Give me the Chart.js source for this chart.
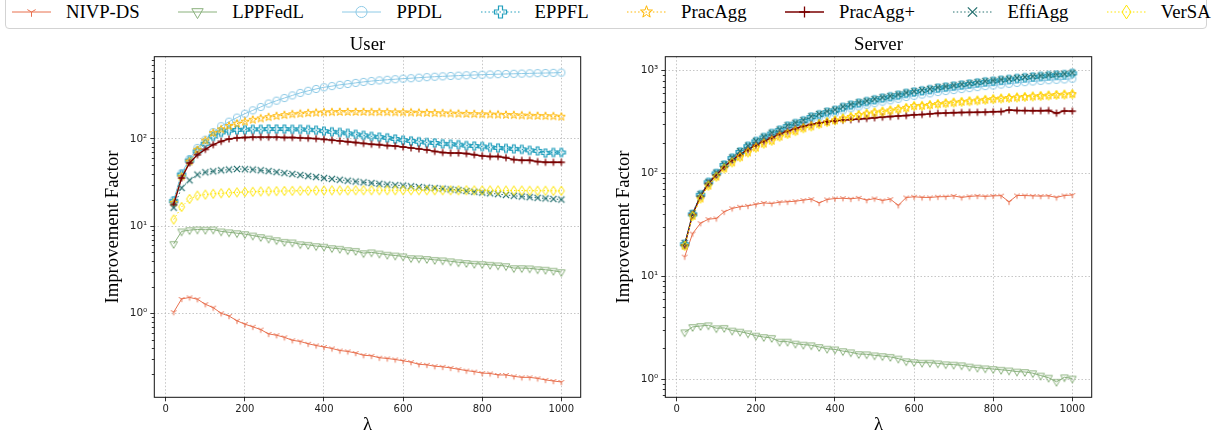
<!DOCTYPE html>
<html>
<head>
<meta charset="utf-8">
<script src="https://cdn.jsdelivr.net/npm/chart.js@4.4.0/dist/chart.umd.min.js"></script>
<style>
html,body{margin:0;padding:0;background:#fff;width:1213px;height:438px;overflow:hidden;position:relative;}
#c1{position:absolute;left:0;top:0;}
#c2{position:absolute;left:606px;top:0;}
#legendBox{position:absolute;left:5px;top:-5px;width:1202px;height:34.3px;border:1px solid #d3d3d3;border-radius:4px;box-sizing:border-box;background:#fff;}
#legend{position:absolute;left:12px;top:0.3px;display:flex;gap:38.5px;align-items:flex-start;}
.item{display:flex;align-items:flex-start;}
.item canvas{display:block;margin-right:15px;}
.item span{font-family:"Liberation Serif";font-size:18.7px;line-height:24px;color:#000;white-space:nowrap;}
</style>
</head>
<body>
<div id="legendBox"></div>
<div id="legend"></div>
<canvas id="c1" width="606" height="438"></canvas>
<canvas id="c2" width="607" height="438"></canvas>
<script>
// ---------------- DATA ----------------
const lambdas = [20,40,60,80,100,120,140,160,180,200,220,240,260,280,300,320,340,360,380,400,
                 420,440,460,480,500,520,540,560,580,600,620,640,660,680,700,720,740,760,780,800,
                 820,840,860,880,900,920,940,960,980,1000];

const seriesNames = ['NIVP-DS','LPPFedL','PPDL','EPPFL','PracAgg','PracAgg+','EffiAgg','VerSA'];

// User subplot
const nivpUser = [1.03,1.46,1.52,1.45,1.27,1.16,1.00,0.93,0.82,0.75,0.70,0.65,0.58,0.56,0.53,0.49,0.475,0.447,0.427,0.41,
                  0.395,0.374,0.365,0.35,0.33,0.325,0.309,0.303,0.295,0.285,0.275,0.26,0.256,0.247,0.243,0.236,0.228,0.22,0.214,0.206,
                  0.204,0.196,0.196,0.189,0.184,0.184,0.179,0.172,0.167,0.163];
const lppUser = [6.25,8.7,9.0,9.15,9.1,9.15,8.7,8.5,8.3,8.1,7.8,7.5,7.2,6.9,6.6,6.5,6.2,6.1,5.9,5.8,
                 5.6,5.5,5.3,5.2,4.9,5.0,4.85,4.7,4.6,4.5,4.3,4.27,4.2,4.1,4.05,3.95,3.85,3.78,3.7,3.67,
                 3.6,3.55,3.48,3.3,3.3,3.28,3.2,3.16,3.08,2.97];
const ppdlUser = [19.9,40.5,59,79,98,120,140,158,176,195,213,233,255,275,295,316,338,357,375,392,
                  404,418,428,440,452,462,470,478,485,492,498,505,512,518,523,528,533,538,542,546,
                  550,554,557,560,563,566,569,571,574,578];
const eppflUser = [19.3,39,56.5,72,88,107,119,125,127,128,129,129,130,130,130,129,129,128,126,123,
                   121,119,116,113,110,107,105,103,100,97,95,93,91,90,88,87,86,84,83,82,
                   80,79,78,77,76,74,73,69,70,70];
const pracUser = [18.5,37,55,75,96,117,129,141,150,158,166,172,178,183,188,192,195,198,200,202,
                  203,204,204,204,204,203,203,203,202,202,201,200,199,198,197,196,195,194,193,192,
                  191,190,189,188,186,185,184,183,182,180];
const pracPlusUser = [17.7,35.7,53,66,76,86,94,100,103,104,105,105,105,105,104,104,103,102,101,99,
                      97,95,93,91,89,87,86,84,83,81,79,77,75,72,70,69,69,68,66,64,
                      63,63,61,58,57,57,55,54,54,54];
const effiUser = [16.3,27.5,33.6,39,41.5,42.6,43.7,44.5,45.3,45,44.5,43.7,42.8,41.7,40.6,39.6,38.6,37.5,36.6,35.6,
                  34.8,34,33.2,32.5,31.8,31.2,30.6,30,29.5,29.2,28.6,28.1,27.7,27.3,26.9,26.4,25.9,25.3,24.8,24.3,
                  23.8,23.3,22.8,22.3,21.9,21.5,21.1,20.8,20.5,20.2];
const versaUser = [11.9,16.6,20.5,22.4,23,23.5,23.8,24.1,24.4,24.6,24.8,25,25.1,25.2,25.3,25.4,25.5,25.5,25.6,25.6,
                   25.7,25.7,25.7,25.8,25.8,25.8,25.8,25.8,25.8,25.8,25.8,25.8,25.8,25.8,25.8,25.8,25.8,25.8,25.7,25.7,
                   25.7,25.7,25.6,25.6,25.6,25.5,25.5,25.5,25.4,25.4];

// Server subplot
const nivpServer = [15.5,26,32.8,35.9,36.5,42.4,45.7,47.4,48.4,50.1,51.7,51,52.5,53,53.7,55,56.2,51.7,55.8,57,
                    57.4,56.6,57.9,55,57,54.6,56.2,49,58.3,59.3,58.5,58.4,59.3,59.5,60.5,58.5,59.8,60.5,59.8,60.5,
                    60.8,53,61,61,60.5,60.2,60.5,58.5,61,61.7];
const lppServer = [2.85,3.21,3.28,3.33,3.12,3.14,2.96,2.89,2.78,2.64,2.56,2.51,2.31,2.31,2.21,2.16,2.13,2.05,1.97,1.94,
                   1.87,1.82,1.75,1.74,1.70,1.67,1.64,1.58,1.49,1.46,1.44,1.44,1.42,1.39,1.38,1.36,1.32,1.29,1.27,1.25,
                   1.23,1.21,1.18,1.17,1.14,1.08,1.03,0.94,1.04,1.01];
const ppdlServer = [20,40,61,81,100,120,139,160,180,199,218,237,255,277,294,311,335,352,372,387,
                    410,430,448,465,483,500,515,533,555,570,586,602,620,634,648,663,677,692,708,718,
                    733,746,761,773,785,796,808,815,822,835];
const eppflServer = [20.5,40,62,82,100,121,141,162,184,205,224,245,264,289,306,325,354,373,395,412,
                     440,462,483,501,521,541,558,578,602,620,637,655,677,692,708,725,742,760,779,790,
                     807,822,840,855,868,881,896,906,916,942];
const pracServer = [19.7,38.6,57,76,93,112,128,144,160,178,195,208,228,242,258,275,287,302,316,328,
                    343,355,370,381,392,400,410,422,434,452,455,463,473,481,489,497,504,512,520,528,
                    536,542,549,555,561,567,573,580,585,592];
const pracPlusServer = [20,40,60,80,97,116,135,153,171,189,206,222,243,258,274,288,300,310,318,325,
                        330,334,338,343,348,353,358,362,366,372,375,380,385,387,390,392,393,394,395,398,
                        400,414,410,409,408,408,410,386,406,404];
const effiServer = [21,41,63,83,102,123,143,165,187,208,228,249,268,294,311,330,360,379,402,418,
                    447,470,491,509,530,550,567,588,612,630,648,666,688,703,720,737,755,772,792,803,
                    820,835,853,868,882,895,910,920,930,955];
const versaServer = [19.7,38.6,57,76,93,112,128,144,160,178,195,208,228,242,258,275,287,302,316,328,
                     343,355,370,381,392,400,410,422,434,452,455,463,473,481,489,497,504,512,520,528,
                     536,542,549,555,561,567,573,580,585,592];

// Tick values / labels
const xTickValues = [0,200,400,600,800,1000];
const xTickLabels = ['0','200','400','600','800','1000'];
const yTickValuesUser = [1,10,100];
const yTickLabelsUser = ['10\u2070','10\u00B9','10\u00B2'];
const yTickValuesServer = [1,10,100,1000];
const yTickLabelsServer = ['10\u2070','10\u00B9','10\u00B2','10\u00B3'];

// ---------------- STYLE ----------------
const seriesColors = ['#e8704f','#8ab17d','#8ecae6','#219ebc','#ffb703','#7a0000','#287271','#ffe500'];
const seriesMarkers = ['tri_down','tri_v','circle','P','star','plus','x','d'];
const seriesDash = [[],[],[],[1.5,2.2],[1.5,2.2],[],[1.5,2.2],[1.5,2.2]];
const seriesWidth = [1,1,1,1,1,1.4,1,1];
const markerLW = [1,1,1,1.2,1,1.3,1.3,1];

function drawMarker(ctx, type, cx, cy, s, color, lw) {
  ctx.save();
  ctx.strokeStyle = color; ctx.lineWidth = lw; ctx.lineJoin = 'miter';
  ctx.beginPath();
  if (type === 'tri_down') {
    const r = 3.2*s;
    ctx.moveTo(cx,cy); ctx.lineTo(cx,cy+r);
    ctx.moveTo(cx,cy); ctx.lineTo(cx-0.866*r,cy-0.5*r);
    ctx.moveTo(cx,cy); ctx.lineTo(cx+0.866*r,cy-0.5*r);
  } else if (type === 'tri_v') {
    const r = 4.4*s;
    ctx.moveTo(cx,cy+r); ctx.lineTo(cx-0.866*r,cy-0.5*r); ctx.lineTo(cx+0.866*r,cy-0.5*r); ctx.closePath();
  } else if (type === 'circle') {
    ctx.arc(cx,cy,3.7*s,0,Math.PI*2);
  } else if (type === 'P') {
    const h = 4.0*s, t = h/3;
    const pts = [[-t,-h],[t,-h],[t,-t],[h,-t],[h,t],[t,t],[t,h],[-t,h],[-t,t],[-h,t],[-h,-t],[-t,-t]];
    pts.forEach((p,i)=>{ if(i===0) ctx.moveTo(cx+p[0],cy+p[1]); else ctx.lineTo(cx+p[0],cy+p[1]); });
    ctx.closePath();
  } else if (type === 'star') {
    const R = 4.2*s, r = R*0.4;
    for (let k=0;k<10;k++){
      const a = -Math.PI/2 + k*Math.PI/5, rad = (k%2)? r : R;
      const px = cx + rad*Math.cos(a), py = cy + rad*Math.sin(a);
      if (k===0) ctx.moveTo(px,py); else ctx.lineTo(px,py);
    }
    ctx.closePath();
  } else if (type === 'plus') {
    const r = 3.6*s;
    ctx.moveTo(cx-r,cy); ctx.lineTo(cx+r,cy); ctx.moveTo(cx,cy-r); ctx.lineTo(cx,cy+r);
  } else if (type === 'x') {
    const r = 3.1*s;
    ctx.moveTo(cx-r,cy-r); ctx.lineTo(cx+r,cy+r); ctx.moveTo(cx-r,cy+r); ctx.lineTo(cx+r,cy-r);
  } else if (type === 'd') {
    const h = 4.6*s, w = 3*s;
    ctx.moveTo(cx,cy-h); ctx.lineTo(cx+w,cy); ctx.lineTo(cx,cy+h); ctx.lineTo(cx-w,cy); ctx.closePath();
  }
  ctx.stroke();
  ctx.restore();
}
function markerCanvas(type, color, lw) {
  const size = 14;
  const c = document.createElement('canvas'); c.width = size; c.height = size;
  drawMarker(c.getContext('2d'), type, size/2, size/2, 1, color, lw);
  return c;
}

// ---------------- LEGEND ----------------
const legendEl = document.getElementById('legend');
seriesNames.forEach((name,i)=>{
  const item = document.createElement('div'); item.className = 'item';
  const cv = document.createElement('canvas'); cv.width = 39; cv.height = 24;
  const g = cv.getContext('2d');
  g.strokeStyle = seriesColors[i]; g.lineWidth = seriesWidth[i]; g.setLineDash(seriesDash[i]);
  g.beginPath(); g.moveTo(0,12); g.lineTo(39,12); g.stroke(); g.setLineDash([]);
  drawMarker(g, seriesMarkers[i], 19.5, 12, 1.5, seriesColors[i], markerLW[i]);
  const sp = document.createElement('span'); sp.textContent = name;
  item.appendChild(cv); item.appendChild(sp); legendEl.appendChild(item);
});

// ---------------- CHARTS ----------------
const framePlugin = {
  id: 'frame',
  afterDraw(chart, args, opts) {
    const {ctx, chartArea: a} = chart;
    ctx.save();
    const ys = chart.scales.y;
    ctx.strokeStyle = '#000'; ctx.lineWidth = 0.8;
    ys.ticks.forEach(t => {
      if (!opts.majors.includes(t.value)) {
        const py = Math.round(ys.getPixelForValue(t.value)) + 0.5;
        ctx.beginPath(); ctx.moveTo(a.left - 2.5, py); ctx.lineTo(a.left, py); ctx.stroke();
      }
    });
    ctx.strokeStyle = '#111'; ctx.lineWidth = 1;
    ctx.strokeRect(a.left, a.top, a.right - a.left, a.bottom - a.top);
    ctx.fillStyle = '#000';
    ctx.font = '18.7px "Liberation Serif"';
    ctx.textAlign = 'center'; ctx.textBaseline = 'alphabetic';
    ctx.fillText(opts.title, (a.left + a.right)/2, 50);
    ctx.restore();
  }
};

function minorList(lo, hi) {
  const out = [];
  for (let e = -2; e <= 4; e++) {
    for (let m = 1; m <= 9; m++) {
      const v = +(m * Math.pow(10, e)).toPrecision(6);
      if (v >= lo && v <= hi) out.push(v);
    }
  }
  return out;
}

function makeChart(id, title, series, yMin, yMax, yVals, yLabels, pad, yWidth, yTitlePad) {
  const datasets = series.map((arr, i) => ({
    label: seriesNames[i],
    data: lambdas.map((x, j) => ({x: x, y: arr[j]})),
    borderColor: seriesColors[i],
    backgroundColor: 'transparent',
    borderWidth: seriesWidth[i],
    borderDash: seriesDash[i],
    pointStyle: markerCanvas(seriesMarkers[i], seriesColors[i], markerLW[i]),
    pointRadius: 4, pointHoverRadius: 4,
    fill: false, tension: 0,
    order: 8 - i
  }));
  const tickList = minorList(yMin, yMax);
  return new Chart(document.getElementById(id), {
    type: 'line',
    data: {datasets},
    options: {
      responsive: false, animation: false, devicePixelRatio: 1,
      layout: {padding: pad},
      plugins: {legend: {display: false}, tooltip: {enabled: false}, frame: {title: title, majors: yVals}},
      scales: {
        x: {
          type: 'linear', min: -29, max: 1049, bounds: 'data',
          afterBuildTicks: s => { s.ticks = xTickValues.map(v => ({value: v})); },
          afterFit: s => { s.height = 40.7; },
          ticks: {
            autoSkip: false, maxRotation: 0, padding: 2.2, color: '#222',
            font: {family: 'DejaVu Sans', size: 10},
            callback: v => { const k = xTickValues.indexOf(v); return k >= 0 ? xTickLabels[k] : ''; }
          },
          grid: {color: '#b8b8b8', lineWidth: 0.8, tickLength: 4, tickColor: '#000', tickWidth: 0.8},
          border: {display: false, dash: [1.5, 2]},
          title: {display: true, text: '\u03BB', color: '#000', font: {family: 'Liberation Serif', size: 18.7}, padding: {top: 0, bottom: 1.4}}
        },
        y: {
          type: 'logarithmic', min: yMin, max: yMax, bounds: 'data',
          afterBuildTicks: s => { s.ticks = tickList.map(v => ({value: v, major: false})); },
          afterFit: s => { s.width = yWidth; },
          ticks: {
            autoSkip: false, padding: 3, color: '#222',
            font: {family: 'DejaVu Sans', size: 10.5},
            callback: v => { const k = yVals.indexOf(v); return k >= 0 ? yLabels[k] : ''; }
          },
          grid: {
            color: c => yVals.includes(c.tick && c.tick.value) ? '#b8b8b8' : 'rgba(0,0,0,0)',
            tickColor: c => yVals.includes(c.tick && c.tick.value) ? '#000' : 'rgba(0,0,0,0)',
            lineWidth: 0.8, tickLength: 4, tickWidth: 0.8
          },
          border: {display: false, dash: [1.5, 2]},
          title: {display: true, text: 'Improvement Factor', color: '#000', font: {family: 'Liberation Serif', size: 18.7}, padding: {top: yTitlePad, bottom: 0}}
        }
      }
    },
    plugins: [framePlugin]
  });
}

makeChart('c1', 'User',
  [nivpUser, lppUser, ppdlUser, eppflUser, pracUser, pracPlusUser, effiUser, versaUser],
  Math.pow(10, -0.964), Math.pow(10, 2.944), yTickValuesUser, yTickLabelsUser,
  {left: 100, right: 25.3, top: 56.7, bottom: 0}, 54.3, 1.5);

makeChart('c2', 'Server',
  [nivpServer, lppServer, ppdlServer, eppflServer, pracServer, pracPlusServer, effiServer, versaServer],
  Math.pow(10, -0.178), Math.pow(10, 3.136), yTickValuesServer, yTickLabelsServer,
  {left: 4, right: 121.3, top: 56.7, bottom: 0}, 55.3, 3.1);
</script>
</body>
</html>
